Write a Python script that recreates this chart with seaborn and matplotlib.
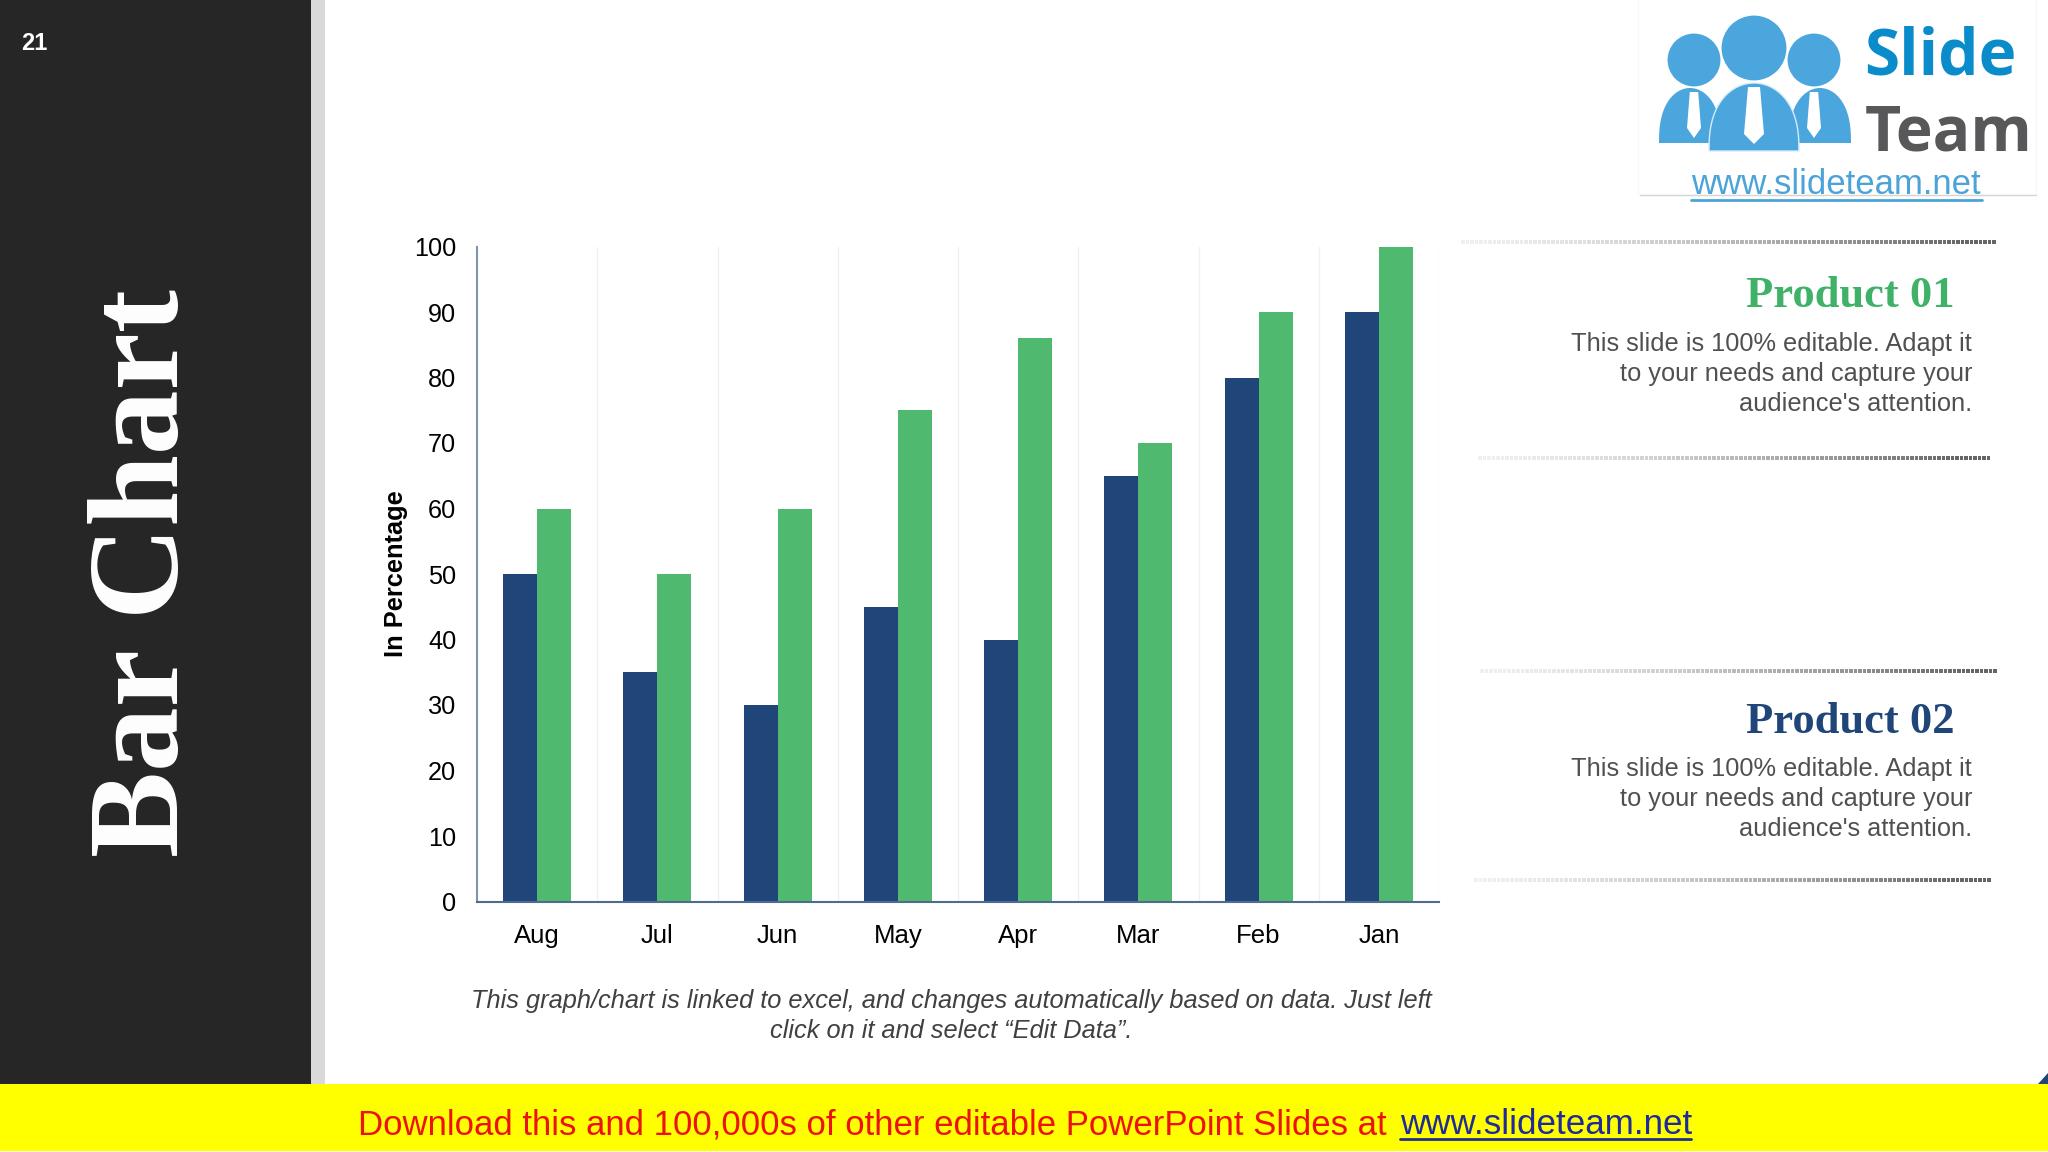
import numpy as np
import pandas as pd
import matplotlib
matplotlib.use('Agg')
import matplotlib.pyplot as plt
from matplotlib.patches import Rectangle, Circle, Polygon
import seaborn as sns

months = ['Aug', 'Jul', 'Jun', 'May', 'Apr', 'Mar', 'Feb', 'Jan']
product_02 = [50, 35, 30, 45, 40, 65, 80, 90]
product_01 = [60, 50, 60, 75, 86, 70, 90, 100]
y_ticks = [0, 10, 20, 30, 40, 50, 60, 70, 80, 90, 100]

BLUE = '#1f4579'
GREEN = '#4fba6f'
W, H = 2048, 1152

sns.set_theme(style='white')
plt.rcParams['font.family'] = ['Liberation Sans', 'DejaVu Sans']

df = pd.DataFrame({
    'month': months * 2,
    'value': product_02 + product_01,
    'product': ['Product 02'] * 8 + ['Product 01'] * 8,
})

fig = plt.figure(figsize=(W / 100, H / 100), dpi=100, facecolor='white')

# full slide overlay in pixel coordinates
bg = fig.add_axes([0, 0, 1, 1])
bg.set_xlim(0, W)
bg.set_ylim(H, 0)
bg.axis('off')

bg.add_patch(Rectangle((0, 0), 311, 1084, color='#262626', lw=0))
bg.add_patch(Rectangle((311, 0), 14, 1084, color='#d9d9d9', lw=0))
bg.add_patch(Rectangle((0, 1084), W, 67, color='#ffff00', lw=0))
bg.add_patch(Polygon([(2048, 1073), (2048, 1084), (2038, 1084)], color=BLUE, lw=0))

bg.text(34, 44, '21', color='white', fontsize=17, fontweight='bold', ha='center', va='center')
bg.text(147, 573, 'Bar Chart', color='white', fontsize=93, fontweight='bold',
        family='Liberation Serif', rotation=90, ha='center', va='center')

# footer
bg.text(358, 1125, 'Download this and 100,000s of other editable PowerPoint Slides at',
        color='#ee1111', fontsize=25.05, ha='left', va='center')
bg.text(1400, 1125, 'www.slideteam.net', color='#1f2a9c', fontsize=25.2, ha='left', va='center')
bg.plot([1400, 1691], [1139, 1139], color='#1f2a9c', lw=2)

# logo
LOGO = '#4aa6dc'


def dome(cx, top, bottom, half, **kw):
    t = np.linspace(0, np.pi, 40)
    pts = np.column_stack([cx + half * np.cos(t), bottom - (bottom - top) * np.sin(t) ** 0.8])
    bg.add_patch(Polygon(pts, closed=True, **kw))


bg.add_patch(Rectangle((1638, -2), 398, 197, fc='white', ec='#f8f8f8', lw=1))
for cx, cy, r in [(1694, 60, 27), (1814, 60, 27), (1754, 48, 33)]:
    bg.add_patch(Circle((cx, cy), r, fc=LOGO, ec='white', lw=0.8))
dome(1690, 88, 143, 31, fc=LOGO, lw=0, zorder=2)
dome(1820, 88, 143, 31, fc=LOGO, lw=0, zorder=2)
dome(1754, 83, 151, 45, fc=LOGO, ec='#d7ecf8', lw=1, zorder=2)
for cx, top, bottom, half in [(1694, 92, 138, 7), (1814, 92, 138, 7), (1754, 87, 144, 10)]:
    bg.add_patch(Polygon([(cx - half * 0.6, top), (cx + half * 0.6, top), (cx + half, bottom - 10),
                          (cx, bottom), (cx - half, bottom - 10)], color='white', lw=0, zorder=4))
bg.text(1864, 58, 'Slide', color='#0a8ccb', fontsize=46, fontweight='bold', family='Open Sans',
        ha='left', va='center')
bg.text(1865, 134, 'Team', color='#58585a', fontsize=45, fontweight='bold', family='Open Sans',
        ha='left', va='center')
bg.plot([1640, 2036], [195, 195], color='#d5d5d5', lw=1)
bg.text(1836, 184, 'www.slideteam.net', color='#4ba3d8', fontsize=25, ha='center', va='center')
bg.plot([1691, 1982], [200, 200], color='#4ba3d8', lw=2)

# dotted separators, fading to the left
for x0, x1, y in [(1463, 1998, 242), (1480, 1992, 458), (1482, 1999, 671), (1476, 1992, 880)]:
    xs = np.arange(x0, x1, 4.5)
    fade = (xs - x0) / (x1 - x0)
    colors = [(0.4, 0.4, 0.4, min(1, 0.1 + f ** 1.5)) for f in fade]
    bg.scatter(xs, [y] * len(xs), s=6, c=colors, marker='s', linewidths=0)

# side text
body = "This slide is 100% editable. Adapt it\nto your needs and capture your\naudience's attention."
bg.text(1955, 296, 'Product 01', color='#3fb268', fontsize=32, fontweight='bold',
        family='Liberation Serif', ha='right', va='center')
bg.text(1955, 722, 'Product 02', color=BLUE, fontsize=32, fontweight='bold',
        family='Liberation Serif', ha='right', va='center')
for y in (374, 799):
    bg.text(1972, y, body, color='#505050', fontsize=18.25, ha='right', va='center',
            multialignment='right', linespacing=1.33)

bg.text(951, 1016, 'This graph/chart is linked to excel, and changes automatically based on data. Just left\n'
        'click on it and select “Edit Data”.', color='#404040', fontsize=18.3, style='italic',
        ha='center', va='center', multialignment='center', linespacing=1.31)

# chart
ax = fig.add_axes([477 / W, 1 - 901.5 / H, (1439 - 477) / W, (901.5 - 246.5) / H])
ax.patch.set_alpha(0)
sns.barplot(data=df, x='month', y='value', hue='product', order=months,
            hue_order=['Product 02', 'Product 01'], palette=[BLUE, GREEN],
            width=0.567, gap=0, saturation=1, linewidth=0, legend=False, ax=ax)
ax.set_xlim(-0.5, 7.5)
ax.set_ylim(0, 100)
ax.set_yticks(y_ticks)
ax.set_xlabel('')
ax.set_ylabel('In Percentage', fontsize=18.3, fontweight='bold', color='black', labelpad=4)
ax.tick_params(axis='y', length=0, pad=15, labelsize=18.2, labelcolor='black')
ax.tick_params(axis='x', length=0, pad=16, labelsize=18.5, labelcolor='black')
ax.set_xticks(np.arange(0.5, 8.5), minor=True)
ax.tick_params(axis='x', which='minor', length=0)
ax.grid(False)
ax.grid(axis='x', which='minor', color='#f0f0f0', lw=1)
ax.set_axisbelow(True)
sns.despine(ax=ax)
ax.spines['left'].set_color('#7f94ae')
ax.spines['left'].set_linewidth(1.5)
ax.spines['bottom'].set_color('#4f6c90')
ax.spines['bottom'].set_linewidth(1.5)

fig.savefig('out.png', dpi=100)
